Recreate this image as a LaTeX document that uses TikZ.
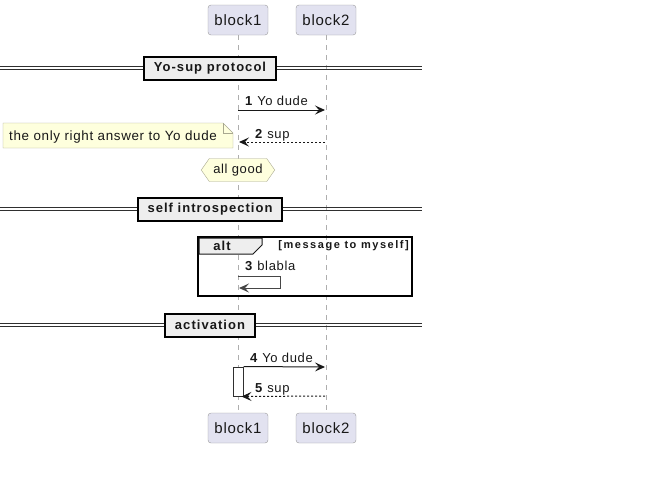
\documentclass[tikz,border=0pt]{standalone}
\usepackage{fontspec}
\setmainfont[LetterSpace=5]{Liberation Sans}
\newfontfamily\spacedbf[LetterSpace=8]{Liberation Sans}
\newfontfamily\widebf[LetterSpace=14]{Liberation Sans}
\usetikzlibrary{arrows.meta,shapes.symbols,positioning}
\definecolor{partfill}{HTML}{E2E2F0}
\definecolor{partdraw}{HTML}{9A9A9A}
\definecolor{notefill}{HTML}{FEFFDD}
\definecolor{notedraw}{HTML}{A8A890}
\definecolor{divfill}{HTML}{EEEEEE}
\definecolor{inkdark}{HTML}{181818}
\begin{document}
\begin{tikzpicture}[x=1pt, y=-1pt, >={Stealth[length=10pt,width=9pt,inset=4pt]},
  participant/.style={draw=partdraw, fill=partfill, rounded corners=3pt, minimum width=60pt, minimum height=30pt, inner sep=0pt, text=inkdark, font=\fontsize{15}{17}\selectfont},
  lifeline/.style={draw=partdraw!80, line width=1pt, dash pattern=on 5pt off 5pt},
  msg/.style={->, draw=inkdark, line width=1pt},
  reply/.style={->, draw=inkdark, line width=1pt, dash pattern=on 2pt off 2pt},
  lbl/.style={anchor=base west, inner sep=0pt, text=inkdark, font=\fontsize{13}{15}\selectfont},
  divbox/.style={draw=black, fill=divfill, line width=2pt, minimum height=23pt, inner xsep=10pt, inner ysep=0pt, text=inkdark, font=\spacedbf\bfseries\fontsize{13}{15}\selectfont},
  divline/.style={draw=inkdark!90, line width=1pt},
  hexnote/.style={signal, signal to=east and west, signal pointer angle=110, draw=notedraw, fill=notefill, minimum height=23pt, inner xsep=4pt, text=inkdark, font=\fontsize{13}{15}\selectfont}]
  \useasboundingbox (0,0) rectangle (655,499);

  % 1. participants and lifelines
  \node[participant] (b1top) at (238,20) {block1};
  \node[participant] (b2top) at (326,20) {block2};
  \node[participant] (b1bot) at (238,428) {block1};
  \node[participant] (b2bot) at (326,428) {block2};
  \draw[lifeline] (b1top) -- (b1bot);
  \draw[lifeline] (b2top) -- (b2bot);

  % 2. dividers
  \foreach \yy/\name/\txt in {68/divA/Yo-sup protocol, 209/divB/self introspection, 325/divC/activation}{
    \draw[divline] (0,\yy-1.5) -- (422,\yy-1.5);
    \draw[divline] (0,\yy+1.5) -- (422,\yy+1.5);
    \node[divbox] (\name) at (210,\yy) {\txt};
  }

  % 3. first exchange with note
  \coordinate (m1a) at (238,110);
  \coordinate (m1b) at (325,110);
  \draw[msg] (m1a) -- (m1b);
  \node[lbl] (l1) at (245,105) {\textbf{1} Yo dude};
  \coordinate (m2a) at (325,142);
  \coordinate (m2b) at (239,142);
  \draw[reply] (m2a) -- (m2b);
  \node[lbl] (l2) at (255,138) {\textbf{2} sup};
  \draw[notedraw, fill=notefill] (3,123) -- (223,123) -- (233,133) -- (233,148) -- (3,148) -- cycle;
  \draw[notedraw] (223,123) -- (223,133) -- (233,133);
  \node[anchor=base west, inner sep=0pt, text=inkdark, font=\fontsize{13.4}{15}\selectfont] (note) at (9,140.5) {the only right answer to Yo dude};
  \node[hexnote] (good) at (238,170) {all good};

  % 4. alt block with self message
  \draw[black, line width=2pt] (198,237) rectangle (412,296);
  \draw[inkdark, line width=1pt, fill=divfill] (199,238) -- (262,238) -- (262,245) -- (253,254) -- (199,254) -- cycle;
  \node[font=\spacedbf\bfseries\fontsize{13}{15}\selectfont, text=inkdark, inner sep=0pt] (alttag) at (222,245.5) {alt};
  \node[anchor=base east, font=\widebf\bfseries\fontsize{11}{13}\selectfont, text=inkdark, inner sep=0pt] (altcond) at (409,248) {[message to myself]};
  \coordinate (m3a) at (238,276);
  \coordinate (m3b) at (239,288);
  \draw[msg, draw=inkdark!80] (m3a) -- (280,276) -- (280,288) -- (m3b);
  \node[lbl] (l3) at (245,270) {\textbf{3} blabla};

  % 5. activation
  \node[draw=inkdark!90, fill=white, line width=1pt, minimum width=10pt, minimum height=29pt, inner sep=0pt] (act) at (238,381.5) {};
  \coordinate (m4b) at (325,367);
  \draw[msg] (act.north east) -- (m4b);
  \node[lbl] (l4) at (250,362) {\textbf{4} Yo dude};
  \coordinate (m5a) at (325,396);
  \draw[reply, shorten >=-2pt] (m5a) -- (act.south east);
  \node[lbl] (l5) at (255,392) {\textbf{5} sup};
\end{tikzpicture}
\end{document}
